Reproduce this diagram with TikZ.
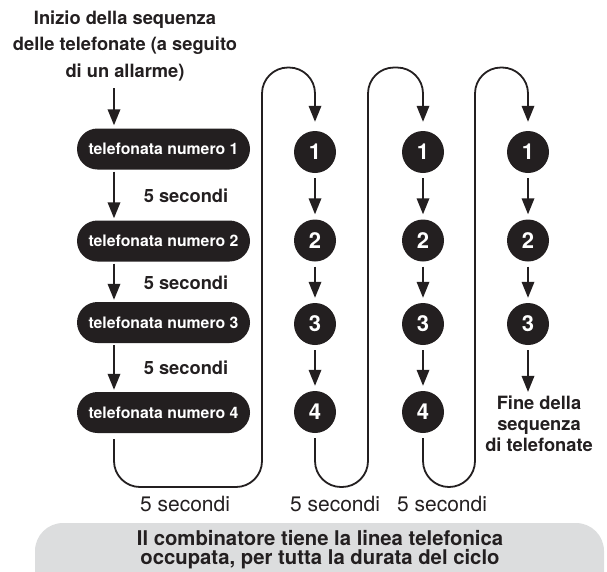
\documentclass[tikz,border=0pt]{standalone}
\usepackage{fontspec}
\setmainfont{TeX Gyre Heros}
\usetikzlibrary{arrows.meta}
\definecolor{ink}{HTML}{231F20}
\definecolor{greyfill}{HTML}{DCDDDE}
\begin{document}
\begin{tikzpicture}[x=1pt,y=-1pt,
  pill/.style={fill=ink, rounded corners=20.5pt, minimum width=173pt, minimum height=41pt, text=white, font=\bfseries\fontsize{15.8}{18}\selectfont, inner sep=0pt},
  num/.style={circle, fill=ink, minimum size=42pt, inner sep=0pt, text=white, font=\bfseries\fontsize{22}{24}\selectfont},
  lab/.style={text=ink, font=\bfseries\fontsize{18.3}{21}\selectfont, align=center, inner sep=0pt},
  rlab/.style={text=ink, font=\fontsize{21}{24}\selectfont, inner sep=0pt},
  arr/.style={draw=ink, line width=1.8pt, -{Triangle[length=16pt,width=12.5pt]}},
  loopline/.style={arr, rounded corners=26pt}
]
\clip (0,0) rectangle (607,571);
% grey band
\fill[greyfill, rounded corners=28pt] (35,523) rectangle (604,610);
\node[lab, font=\bfseries\fontsize{20.3}{19}\selectfont] (note) at (320,550) {Il combinatore tiene la linea telefonica\\occupata, per tutta la durata del ciclo};

% start text
\node[lab, font=\bfseries\fontsize{18.3}{26.5}\selectfont] (start) at (125,46) {Inizio della sequenza\\delle telefonate (a seguito\\di un allarme)};
\coordinate (ax) at (114,0);

% pills
\node[pill] (p1) at (163.5,149) {telefonata numero 1};
\node[pill] (p2) at (163.5,241) {telefonata numero 2};
\node[pill] (p3) at (163.5,322.5) {telefonata numero 3};
\node[pill] (p4) at (163.5,412.5) {telefonata numero 4};

\node[lab] (s1) at (186,196) {5 secondi};
\node[lab] (s2) at (186,283) {5 secondi};
\node[lab] (s3) at (186,368) {5 secondi};

\draw[arr, shorten <=7pt, shorten >=3pt] (ax |- start.south) -- (ax |- p1.north);
\draw[arr, shorten <=2pt, shorten >=2pt] (ax |- p1.south) -- (ax |- p2.north);
\draw[arr, shorten <=2pt, shorten >=2pt] (ax |- p2.south) -- (ax |- p3.north);
\draw[arr, shorten <=2pt, shorten >=2pt] (ax |- p3.south) -- (ax |- p4.north);

% circles
\foreach \c/\x in {1/315,2/423,3/528}{
  \node[num] (c\c1) at (\x,152) {1};
  \node[num] (c\c2) at (\x,240.5) {2};
  \node[num] (c\c3) at (\x,324) {3};
  \draw[arr, shorten <=5pt, shorten >=5pt] (c\c1) -- (c\c2);
  \draw[arr, shorten <=5pt, shorten >=5pt] (c\c2) -- (c\c3);
}
\node[num] (c14) at (315,412) {4};
\node[num] (c24) at (423,412) {4};
\draw[arr, shorten <=5pt, shorten >=5pt] (c13) -- (c14);
\draw[arr, shorten <=5pt, shorten >=5pt] (c23) -- (c24);

% loops
\draw[loopline, shorten >=9pt] ([yshift=-6pt]ax |- p4.south) -- (114,487) -- (262,487) -- (262,67.5) -- (315,67.5) -- (c11.north);
\draw[loopline, shorten >=9pt] ([yshift=-5pt]c14.south) -- (315,487) -- (368,487) -- (368,67.5) -- (423,67.5) -- (c21.north);
\draw[loopline, shorten >=9pt] ([yshift=-5pt]c24.south) -- (423,487) -- (475,487) -- (475,67.5) -- (528,67.5) -- (c31.north);

% end
\node[lab, font=\bfseries\fontsize{18.3}{21}\selectfont] (fine) at (539,424) {Fine della\\sequenza\\di telefonate};
\draw[arr, shorten <=5pt] (c33.south) -- ([yshift=4pt]c33.south |- fine.north);

% bottom labels
\node[rlab] (b1) at (185,504) {5 secondi};
\node[rlab] (b2) at (335,504) {5 secondi};
\node[rlab] (b3) at (442,504) {5 secondi};
\end{tikzpicture}
\end{document}
